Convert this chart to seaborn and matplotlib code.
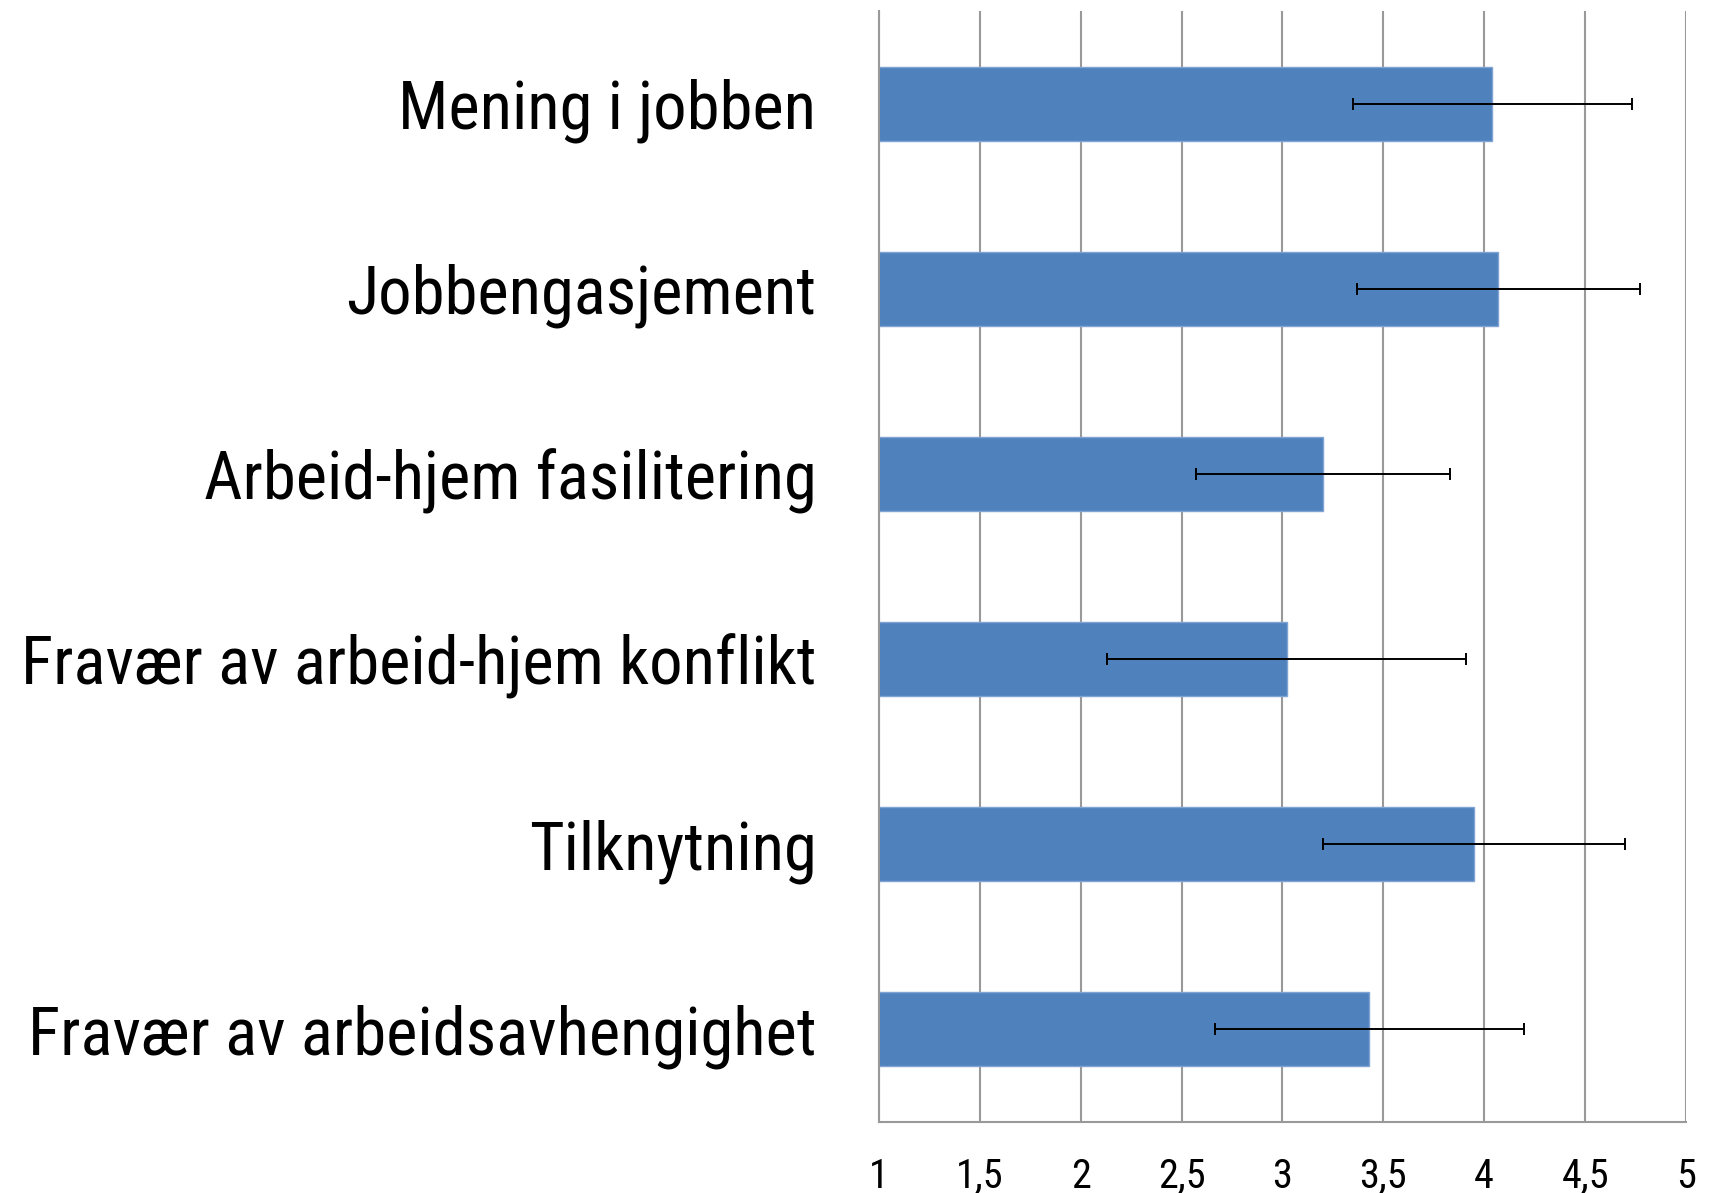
import numpy as np
import pandas as pd
import matplotlib
matplotlib.use("Agg")
import matplotlib.pyplot as plt
from matplotlib.ticker import NullFormatter
import seaborn as sns

labels = ["Mening i jobben", "Jobbengasjement", "Arbeid-hjem fasilitering",
          "Fravær av arbeid-hjem konflikt", "Tilknytning", "Fravær av arbeidsavhengighet"]
means = [4.04, 4.07, 3.20, 3.02, 3.95, 3.43]
errs = [0.69, 0.70, 0.63, 0.89, 0.75, 0.765]
xticks = [1, 1.5, 2, 2.5, 3, 3.5, 4, 4.5, 5]
xtick_labels = ["1", "1,5", "2", "2,5", "3", "3,5", "4", "4,5", "5"]

sns.set_style("white")
plt.rcParams['font.family'] = ['Roboto Condensed', 'DejaVu Sans']
plt.rcParams['text.color'] = 'black'

df = pd.DataFrame({"label": labels, "mean": means})

fig = plt.figure(figsize=(17.11, 11.93), dpi=100)
ax = fig.add_axes([0.5137, 0.0595, 0.9854 - 0.5137, 0.9908 - 0.0595])

sns.barplot(data=df, x="mean", y="label", orient="h", color="#4F81BD",
            width=0.4, edgecolor="#7FA3D3", linewidth=1, saturation=1, ax=ax)
ax.errorbar(df["mean"], np.arange(len(labels)), xerr=errs, fmt="none",
            ecolor="black", elinewidth=1.4, capsize=4, capthick=1.4, zorder=5)

ax.set_xlim(1, 5)
ax.set_ylim(5.5, -0.5)
ax.set_xlabel("")
ax.set_ylabel("")

ax.set_xticks(xticks)
ax.set_xticklabels(xtick_labels, fontsize=29)
ax.tick_params(axis="x", length=8, width=1.5, color="#999999", labelcolor="black", pad=17)

ax.set_yticks(np.arange(-0.5, len(labels), 1))
ax.yaxis.set_major_formatter(NullFormatter())
ax.set_yticks(np.arange(len(labels)), labels=labels, minor=True)
ax.tick_params(axis="y", which="major", length=14, width=1.5, color="#999999")
ax.tick_params(axis="y", which="minor", length=0, pad=45, labelsize=48, labelcolor="black")

ax.set_axisbelow(True)
ax.xaxis.grid(True, color="#999999", linewidth=1.5)
ax.yaxis.grid(False)

for s in ["top", "right"]:
    ax.spines[s].set_visible(False)
for s in ["left", "bottom"]:
    ax.spines[s].set_color("#999999")
    ax.spines[s].set_linewidth(1.5)

fig.savefig("out.png", dpi=100)
